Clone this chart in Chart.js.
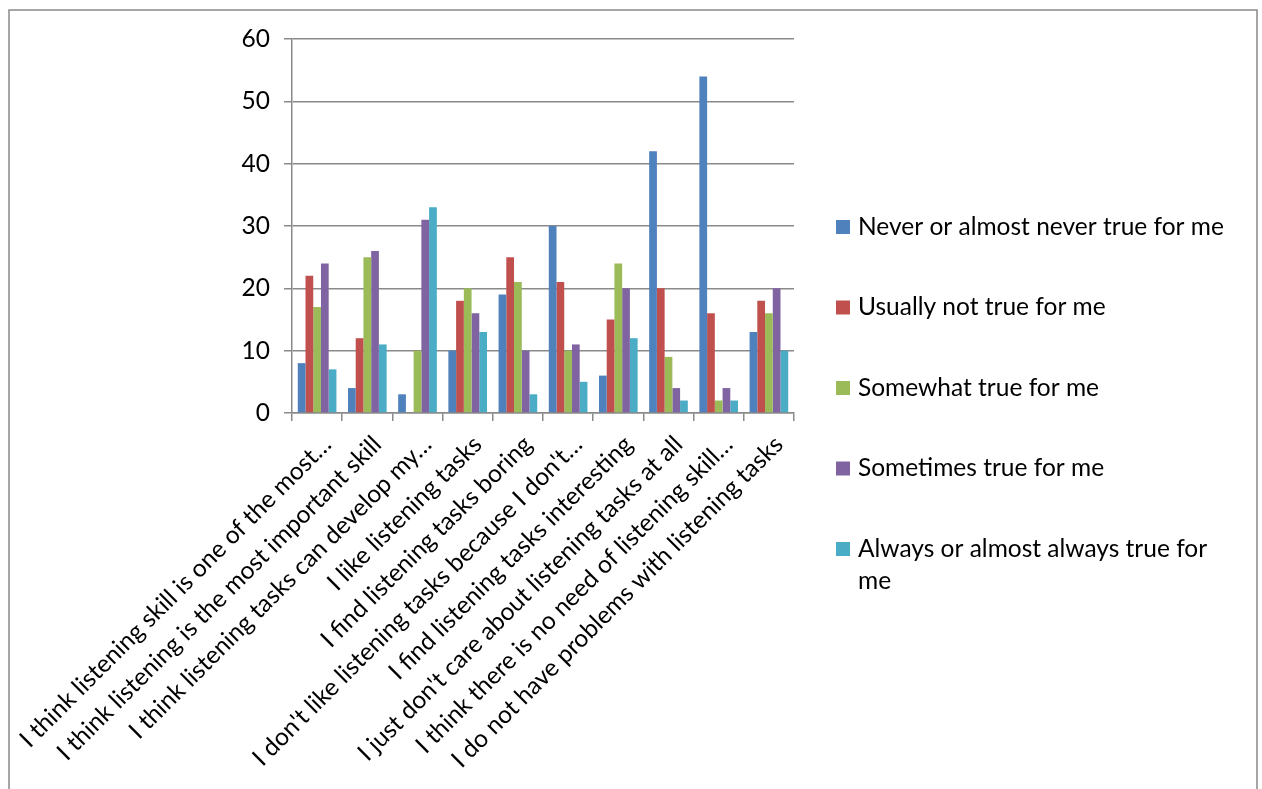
<!DOCTYPE html>
<html>
<head>
<meta charset="utf-8">
<script src="https://cdn.jsdelivr.net/npm/chart.js@4.4.1/dist/chart.umd.min.js"></script>
<style>
    html, body { margin: 0; padding: 0; background: #fff; }
    #wrap { width: 1262px; height: 789px; }
</style>
</head>
<body>
<div id="wrap"><canvas id="survey-chart" width="1262" height="789"></canvas></div>
<script>
// Statements (as shown, shortened ones keep their ellipsis)
const statements = [
    "I think listening skill is one of the most…",
    "I think listening is the most important skill",
    "I think listening tasks can develop my…",
    "I like listening tasks",
    "I find listening tasks boring",
    "I don't like listening tasks because I don't…",
    "I find listening tasks interesting",
    "I just don't care about listening tasks at all",
    "I think there is no need of listening skill…",
    "I do not have problems with listening tasks"
];

// Answer scale
const answerLabels = [
    "Never or almost never true for me",
    "Usually not true for me",
    "Somewhat true for me",
    "Sometimes true for me",
    "Always or almost always true for me"
];

// Counts per answer, one entry per statement
const neverTrue     = [8, 4, 3, 10, 19, 30, 6, 42, 54, 13];
const usuallyNot    = [22, 12, 0, 18, 25, 21, 15, 20, 16, 18];
const somewhatTrue  = [17, 25, 10, 20, 21, 10, 24, 9, 2, 16];
const sometimesTrue = [24, 26, 31, 16, 10, 11, 20, 4, 4, 20];
const alwaysTrue    = [7, 11, 33, 13, 3, 5, 12, 2, 2, 10];

const yTicks = [0, 10, 20, 30, 40, 50, 60];

const seriesValues = [neverTrue, usuallyNot, somewhatTrue, sometimesTrue, alwaysTrue];
const seriesColors = ['#4F81BD', '#C0504D', '#9BBB59', '#8064A2', '#4BACC6'];

const FONT = 'Lato, "Open Sans", sans-serif';
const FONT_SIZE = 24.5;
const AXIS_GRAY = '#8a8a8a';

// White page + outer frame
const framePlugin = {
    id: 'frame',
    beforeDraw(chart) {
        const ctx = chart.ctx;
        ctx.save();
        ctx.fillStyle = '#fff';
        ctx.fillRect(0, 0, chart.width, chart.height);
        ctx.strokeStyle = '#898989';
        ctx.lineWidth = 1.5;
        ctx.strokeRect(9, 10, 1248, 820);
        ctx.restore();
    }
};

// Legend on the right, spaced out with word wrapping
const sideLegend = {
    id: 'sideLegend',
    afterDraw(chart) {
        const ctx = chart.ctx;
        const x0 = 836, textX = 858, firstY = 227, step = 80.5, maxW = 378, lineH = 32;
        ctx.save();
        ctx.font = `${FONT_SIZE}px ${FONT}`;
        ctx.textBaseline = 'middle';
        ctx.textAlign = 'left';
        chart.data.datasets.forEach((ds, i) => {
            const y = firstY + i * step;
            ctx.fillStyle = ds.backgroundColor;
            ctx.fillRect(x0, y - 7, 14, 14);
            ctx.fillStyle = '#000';
            const words = ds.label.split(' ');
            let line = '';
            let ly = y;
            words.forEach(w => {
                const test = line ? line + ' ' + w : w;
                if (ctx.measureText(test).width > maxW && line) {
                    ctx.fillText(line, textX, ly);
                    line = w;
                    ly += lineH;
                } else {
                    line = test;
                }
            });
            ctx.fillText(line, textX, ly);
        });
        ctx.restore();
    }
};

new Chart(document.getElementById('survey-chart'), {
    type: 'bar',
    data: {
        labels: statements,
        datasets: answerLabels.map((label, i) => ({
            label: label,
            data: seriesValues[i],
            backgroundColor: seriesColors[i],
            borderWidth: 0,
            barPercentage: 1,
            categoryPercentage: 0.77
        }))
    },
    options: {
        responsive: false,
        animation: false,
        layout: {
            padding: { left: 10, top: 39, right: 468, bottom: 0 }
        },
        plugins: {
            legend: { display: false },
            tooltip: { enabled: false }
        },
        scales: {
            x: {
                grid: {
                    display: true,
                    drawOnChartArea: false,
                    drawTicks: true,
                    tickLength: 8,
                    color: AXIS_GRAY,
                    lineWidth: 1.5
                },
                border: { color: AXIS_GRAY, width: 1.5 },
                ticks: {
                    autoSkip: false,
                    minRotation: 45,
                    maxRotation: 45,
                    padding: 9,
                    labelOffset: 10,
                    color: '#000',
                    font: { family: FONT, size: FONT_SIZE }
                },
                afterFit(scale) {
                    scale.height = 376;
                    scale.paddingLeft = 0;
                    scale.paddingRight = 0;
                }
            },
            y: {
                min: 0,
                max: 60,
                afterBuildTicks(scale) {
                    scale.ticks = yTicks.map(v => ({ value: v }));
                },
                grid: {
                    color: AXIS_GRAY,
                    lineWidth: 1.5,
                    tickLength: 8
                },
                border: { color: AXIS_GRAY, width: 1.5 },
                ticks: {
                    padding: 14,
                    color: '#000',
                    font: { family: FONT, size: FONT_SIZE }
                },
                afterFit(scale) {
                    scale.width = 282;
                    scale.paddingTop = 0;
                    scale.paddingBottom = 0;
                }
            }
        }
    },
    plugins: [framePlugin, sideLegend]
});
</script>
</body>
</html>
